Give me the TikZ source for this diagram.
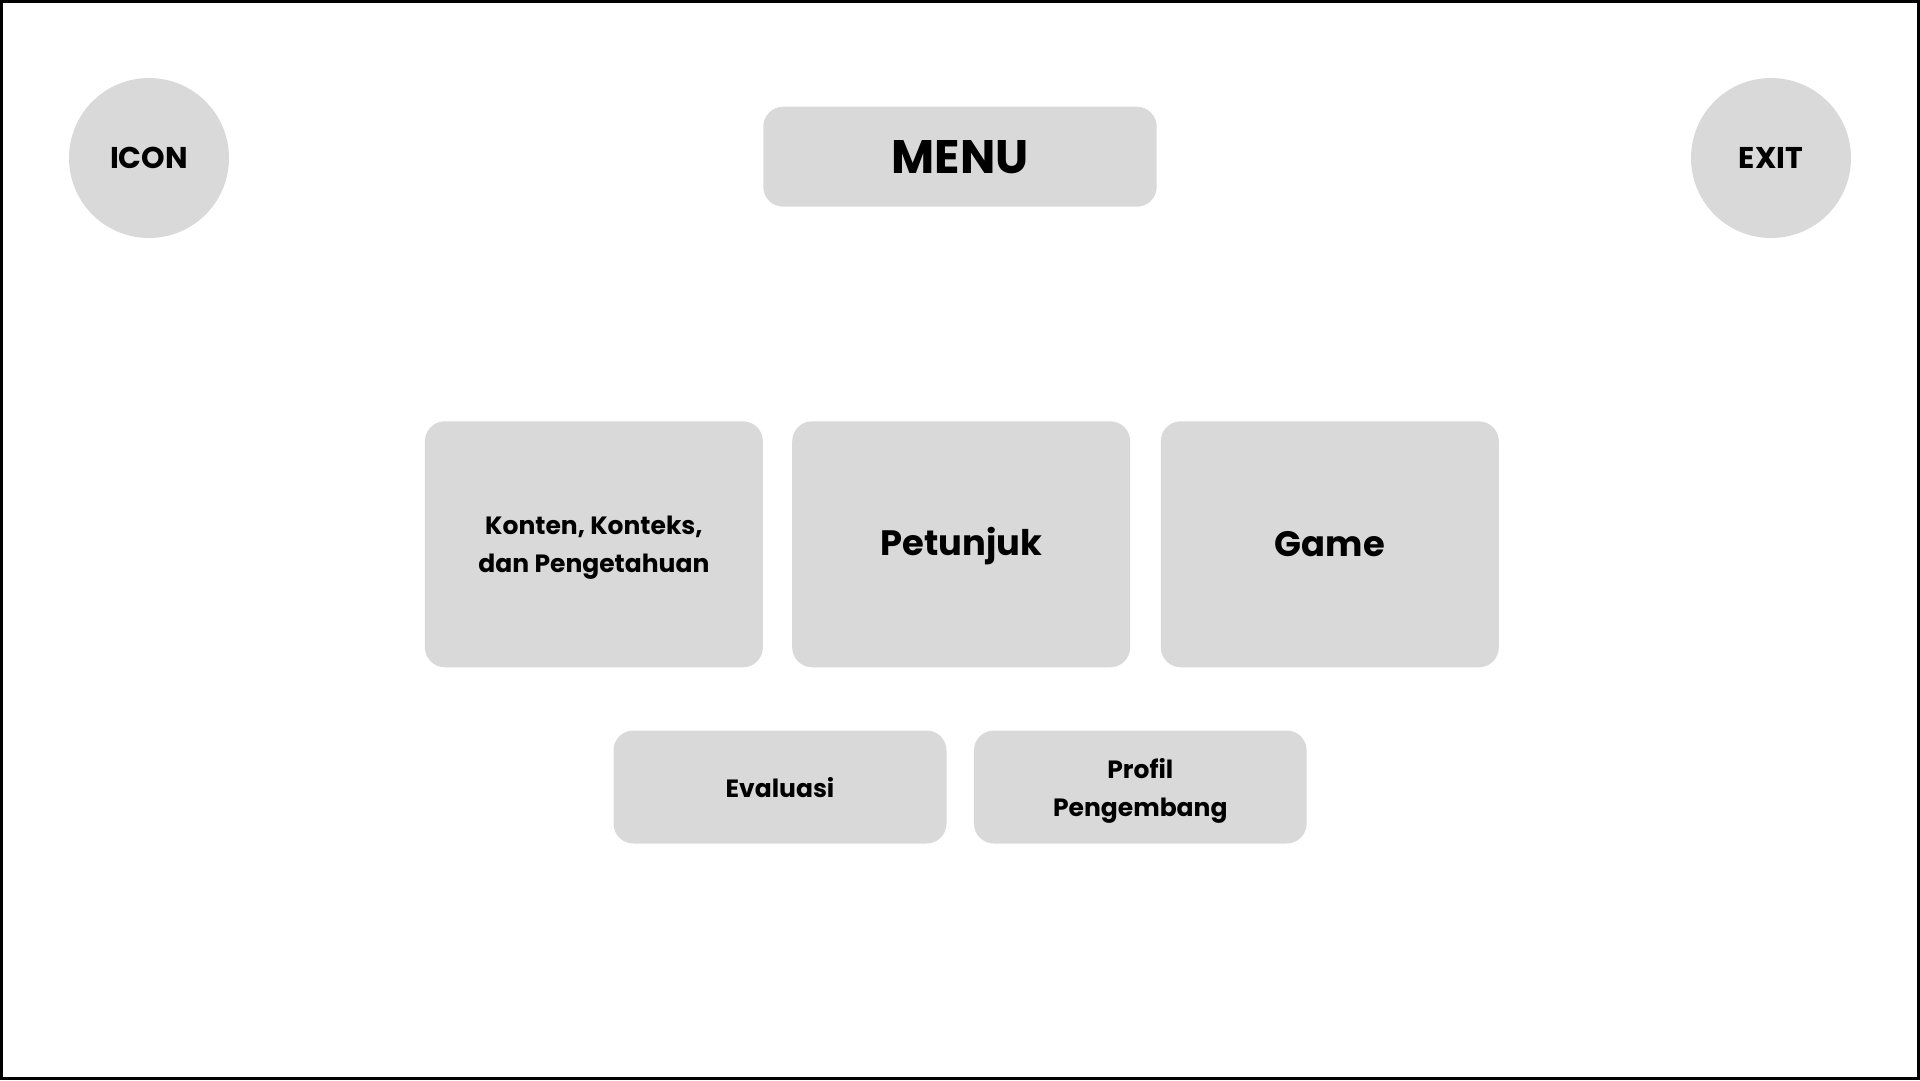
\documentclass[tikz,border=0pt]{standalone}
\usepackage{fontspec}
\setmainfont{Poppins}
\definecolor{boxgray}{HTML}{D9D9D9}
\begin{document}
\begin{tikzpicture}[x=1pt,y=-1pt,
  panel/.style={fill=boxgray, draw=none, rounded corners=20pt, inner sep=0pt, align=center, text depth=0pt},
  roundbtn/.style={circle, fill=boxgray, draw=none, minimum size=160pt, inner sep=0pt, text depth=0pt},
  smalltxt/.style={font=\fontsize{25}{38}\selectfont\bfseries},
  midtxt/.style={font=\fontsize{35.3}{42}\selectfont\bfseries},
  bigtxt/.style={font=\fontsize{47}{56}\selectfont\bfseries},
  icontxt/.style={font=\fontsize{30}{36}\selectfont\bfseries}]
\useasboundingbox (0,0) rectangle (1920,1080);
\fill[white] (0,0) rectangle (1920,1080);
\draw[line width=3pt] (1.5,1.5) rectangle (1918.5,1078.5);
% top row
\node[roundbtn, icontxt] (icon) at (149,158) {ICON};
\node[roundbtn, icontxt] (exit) at (1771,158) {EXIT};
\node[panel, bigtxt, minimum width=393.4pt, minimum height=100pt] (menu) at (960,156.7) {\raisebox{-1pt}{MENU}};
% main panels
\node[panel, smalltxt, minimum width=338pt, minimum height=246pt] (konten) at (593.9,544.3) {Konten, Konteks,\\dan Pengetahuan};
\node[panel, midtxt, minimum width=338pt, minimum height=246pt] (petunjuk) at (961.2,544.3) {\raisebox{5pt}{Petunjuk}};
\node[panel, midtxt, minimum width=338pt, minimum height=246pt] (game) at (1329.8,544.3) {Game};
% bottom panels
\node[panel, smalltxt, minimum width=333pt, minimum height=113pt] (evaluasi) at (780,787) {Evaluasi};
\node[panel, smalltxt, minimum width=332.7pt, minimum height=113pt] (profil) at (1140.3,787) {Profil\\Pengembang};
\end{tikzpicture}
\end{document}
